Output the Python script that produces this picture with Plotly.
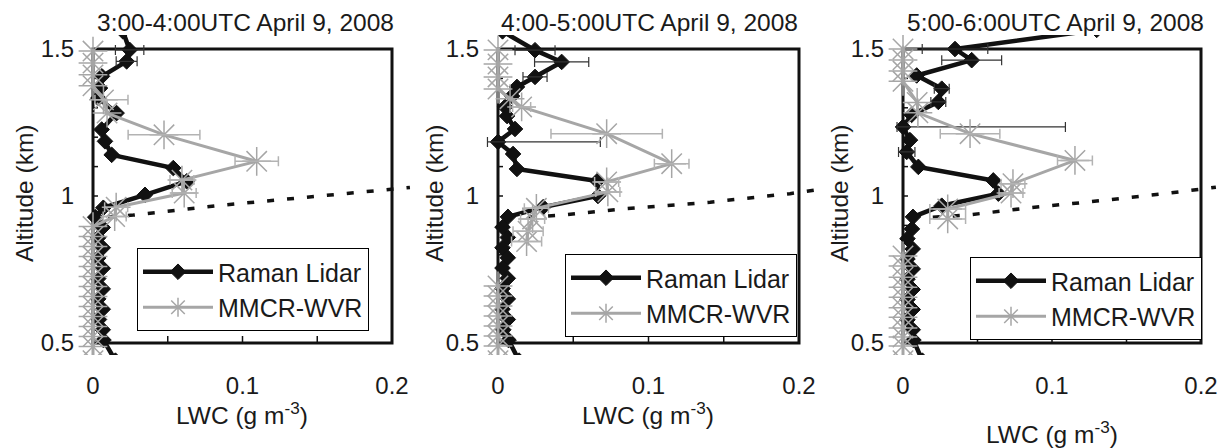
import plotly.graph_objects as go

W, H = 1223, 448
FONT = "Liberation Sans, Arial, sans-serif"
TXT = "#1a1a1a"
BLACK = "#111111"
GRAY = "#a6a6a6"

TITLES = ["3:00-4:00UTC April 9, 2008", "4:00-5:00UTC April 9, 2008", "5:00-6:00UTC April 9, 2008"]
X_TICKS = [0, 0.1, 0.2]
X_TICK_TEXT = ["0", "0.1", "0.2"]
Y_TICKS = [0.5, 1, 1.5]
Y_TICK_TEXT = ["0.5", "1", "1.5"]
X_MINOR = [0.05, 0.1, 0.15]
Y_MINOR = [0.6, 0.7, 0.8, 0.9, 1.0, 1.1, 1.2, 1.3, 1.4]
X_TITLE = "LWC (g m<sup>-3</sup>)"
Y_TITLE = "Altitude (km)"

# ---------------- Panel 1 : 3:00-4:00 UTC ----------------
P1_LIDAR_ALT = [1.56, 1.497, 1.458, 1.407, 1.367, 1.333, 1.282, 1.226, 1.186, 1.140, 1.095, 1.050, 1.004,
                0.960, 0.928, 0.893, 0.858, 0.824, 0.789, 0.754, 0.719, 0.684, 0.650, 0.615, 0.580, 0.545,
                0.510, 0.440]
P1_LIDAR_LWC = [0.020, 0.0245, 0.0225, 0.0060, 0.0047, 0.0036, 0.0158, 0.0058, 0.0080, 0.0125, 0.0537,
                0.0627, 0.0348, 0.0069, 0.0015, 0.0065, 0.0035, 0.0065, 0.0035, 0.0065, 0.0035, 0.0065,
                0.0035, 0.0065, 0.0040, 0.0065, 0.0070, 0.0150]
P1_LIDAR_ERR_P = [None, 0.0095, 0.0070] + [None] * 25
P1_LIDAR_ERR_M = [None, 0.0095, 0.0070] + [None] * 25

P1_MMCR_ALT = [1.493, 1.452, 1.412, 1.375, 1.327, 1.282, 1.208, 1.118, 1.054, 1.010, 0.962, 0.930,
               0.896, 0.862, 0.828, 0.794, 0.760, 0.726, 0.692, 0.658, 0.624, 0.590, 0.556, 0.522,
               0.488, 0.440]
P1_MMCR_LWC = [0.0, 0.0, 0.0, 0.0, 0.0070, 0.0094, 0.0475, 0.1095, 0.0595, 0.0610, 0.0155, 0.0145,
               0.0, 0.0, 0.0, 0.0, 0.0, 0.0, 0.0, 0.0, 0.0, 0.0, 0.0, 0.0, 0.0, 0.0]
P1_MMCR_ERR_P = [None] * 4 + [0.0164, None, 0.024, 0.0145, 0.008, 0.008, 0.0077, 0.0077] + [None] * 14
P1_MMCR_ERR_M = [None] * 4 + [0.0057, None, 0.024, 0.0145, 0.008, 0.008, 0.0077, 0.0077] + [None] * 14

P1_ADIAB_LWC = [0.010, 0.027, 0.083, 0.138, 0.194, 0.212]
P1_ADIAB_ALT = [0.928, 0.935, 0.967, 0.993, 1.019, 1.029]

# ---------------- Panel 2 : 4:00-5:00 UTC ----------------
P2_LIDAR_ALT = [1.56, 1.496, 1.456, 1.405, 1.371, 1.340, 1.303, 1.272, 1.228, 1.184, 1.143, 1.092, 1.051,
                1.000, 0.962, 0.929, 0.894, 0.859, 0.824, 0.790, 0.755, 0.720, 0.685, 0.650, 0.615,
                0.580, 0.545, 0.510, 0.440]
P2_LIDAR_LWC = [0.003, 0.0246, 0.0423, 0.0246, 0.0126, 0.0093, 0.0047, 0.0060, 0.0113, 0.0, 0.0100,
                0.0126, 0.0660, 0.0664, 0.0300, 0.0066, 0.0030, 0.0065, 0.0030, 0.0065, 0.0030, 0.0065,
                0.0030, 0.0065, 0.0030, 0.0065, 0.0035, 0.0070, 0.0140]
P2_LIDAR_ERR_P = [None, 0.0133, 0.018, 0.008, None, None, None, None, None, 0.068] + [None] * 19
P2_LIDAR_ERR_M = [None, 0.0133, 0.018, 0.008, None, None, None, None, None, 0.007] + [None] * 19

P2_MMCR_ALT = [1.497, 1.449, 1.405, 1.364, 1.331, 1.303, 1.212, 1.110, 1.048, 1.014, 0.958, 0.922,
               0.880, 0.845, None, 0.694, 0.660, 0.626, 0.592, 0.558, 0.524, 0.490, 0.440]
P2_MMCR_LWC = [0.0, 0.0, 0.0, 0.0, 0.0080, 0.0157, 0.0722, 0.1154, 0.0722, 0.0730, 0.0255, 0.0230,
               0.0200, 0.0190, None, 0.0, 0.0, 0.0, 0.0, 0.0, 0.0, 0.0, 0.0]
P2_MMCR_ERR_P = [None] * 5 + [0.006, 0.037, 0.0115, 0.008, 0.008, 0.008, 0.008, 0.010, 0.010] + [None] * 9
P2_MMCR_ERR_M = [None] * 5 + [0.006, 0.037, 0.0115, 0.008, 0.008, 0.008, 0.008, 0.010, 0.010] + [None] * 9

P2_ADIAB_LWC = [0.020, 0.043, 0.083, 0.141, 0.194, 0.210]
P2_ADIAB_ALT = [0.928, 0.935, 0.956, 0.979, 1.008, 1.020]

# ---------------- Panel 3 : 5:00-6:00 UTC ----------------
P3_LIDAR_ALT = [1.565, 1.500, 1.462, 1.410, 1.365, 1.320, 1.276, 1.235, 1.190, 1.150, 1.099, 1.053,
                1.008, 0.967, 0.929, 0.888, 0.855, 0.820, 0.786, 0.752, 0.717, 0.682, 0.648, 0.614,
                0.579, 0.545, 0.510, 0.440]
P3_LIDAR_LWC = [0.130, 0.0349, 0.0461, 0.0092, 0.0260, 0.0237, 0.0058, 0.0, 0.0047, 0.0025, 0.0103,
                0.0606, 0.0640, 0.0260, 0.0067, 0.0060, 0.0030, 0.0065, 0.0030, 0.0065, 0.0030, 0.0065,
                0.0030, 0.0065, 0.0030, 0.0065, 0.0070, 0.0130]
P3_LIDAR_ERR_P = [None, 0.022, 0.0201, None, 0.005, 0.005, None, 0.109, None, 0.0055] + [None] * 18
P3_LIDAR_ERR_M = [None, 0.022, 0.0201, None, 0.005, 0.005, None, 0.004, None, 0.0055] + [None] * 18

P3_MMCR_ALT = [1.500, 1.463, 1.425, 1.390, 1.318, 1.283, 1.212, 1.121, 1.042, 1.010, 0.956, 0.922,
               None, 0.796, 0.762, 0.724, 0.690, 0.656, 0.620, 0.588, 0.551, 0.520, 0.490, 0.440]
P3_MMCR_LWC = [0.0, 0.0, 0.0, 0.0, 0.0095, 0.0100, 0.0450, 0.1154, 0.0738, 0.0725, 0.0300, 0.0300,
               None, 0.0, 0.0, 0.0, 0.0, 0.0, 0.0, 0.0, 0.0, 0.0, 0.0, 0.0]
P3_MMCR_ERR_P = [None] * 6 + [0.020, 0.0117, 0.008, 0.008, 0.012, 0.012] + [None] * 12
P3_MMCR_ERR_M = [None] * 6 + [0.020, 0.0117, 0.008, 0.008, 0.012, 0.012] + [None] * 12

P3_ADIAB_LWC = [0.020, 0.043, 0.085, 0.125, 0.179, 0.195, 0.210]
P3_ADIAB_ALT = [0.928, 0.935, 0.960, 0.980, 1.010, 1.020, 1.030]

PANELS = [
    (P1_LIDAR_LWC, P1_LIDAR_ALT, P1_LIDAR_ERR_P, P1_LIDAR_ERR_M,
     P1_MMCR_LWC, P1_MMCR_ALT, P1_MMCR_ERR_P, P1_MMCR_ERR_M, P1_ADIAB_LWC, P1_ADIAB_ALT),
    (P2_LIDAR_LWC, P2_LIDAR_ALT, P2_LIDAR_ERR_P, P2_LIDAR_ERR_M,
     P2_MMCR_LWC, P2_MMCR_ALT, P2_MMCR_ERR_P, P2_MMCR_ERR_M, P2_ADIAB_LWC, P2_ADIAB_ALT),
    (P3_LIDAR_LWC, P3_LIDAR_ALT, P3_LIDAR_ERR_P, P3_LIDAR_ERR_M,
     P3_MMCR_LWC, P3_MMCR_ALT, P3_MMCR_ERR_P, P3_MMCR_ERR_M, P3_ADIAB_LWC, P3_ADIAB_ALT),
]

# ---------------- geometry (pixels) ----------------
PX0 = [93, 498, 903]        # pixel of LWC = 0
PX02 = [392, 799, 1201]     # pixel of LWC = 0.2
PL = [75, 480, 885]         # plot-area left
PR = [414, 821, 1223]       # plot-area right
PY15, PY05, PT, PB = 49, 343, 35, 355
TITLE_X = [245, 649, 1055]
XT_X = [242, 648, 1052]
XT_Y = [413, 413, 432]
YT_X = [24, 434, 839]
LEG_POS = [(137, 248), (565, 254), (970, 257)]

fig = go.Figure()
layout = dict(width=W, height=H, margin=dict(l=0, r=0, t=0, b=0), autosize=False,
              paper_bgcolor="white", plot_bgcolor="white",
              font=dict(family=FONT, size=24, color=TXT), shapes=[], annotations=[])

sy = (PY05 - PY15) / 1.0
yr = [0.5 - (PB - PY05) / sy, 1.5 + (PY15 - PT) / sy]


def subset(xs, ys, ep, em):
    idx = [i for i, e in enumerate(ep) if e is not None and ys[i] is not None]
    return ([xs[i] for i in idx], [ys[i] for i in idx], [ep[i] for i in idx], [em[i] for i in idx])


for k, (llwc, lalt, lep, lem, mlwc, malt, mep, mem, alwc, aalt) in enumerate(PANELS):
    n = "" if k == 0 else str(k + 1)
    xa, ya = "x" + n, "y" + n
    leg = "legend" + n
    s = (PX02[k] - PX0[k]) / 0.2
    xr = [(PL[k] - PX0[k]) / s, (PR[k] - PX0[k]) / s]

    # adiabatic dashed line
    fig.add_trace(go.Scatter(x=alwc, y=aalt, mode="lines", xaxis=xa, yaxis=ya, showlegend=False,
                             line=dict(color=BLACK, width=3.5, dash="7px,13px"), hoverinfo="skip"))
    # Raman lidar
    fig.add_trace(go.Scatter(x=llwc, y=lalt, mode="lines+markers", name="Raman Lidar", xaxis=xa, yaxis=ya,
                             legend=leg, line=dict(color=BLACK, width=4.5),
                             marker=dict(symbol="diamond", size=12, color=BLACK,
                                         line=dict(color=BLACK, width=1))))
    ex, ey, ep, em = subset(llwc, lalt, lep, lem)
    fig.add_trace(go.Scatter(x=ex, y=ey, mode="markers", xaxis=xa, yaxis=ya, showlegend=False,
                             marker=dict(size=1, opacity=0), hoverinfo="skip",
                             error_x=dict(type="data", symmetric=False, array=ep, arrayminus=em,
                                          color="#333333", thickness=1.2, width=5)))
    # MMCR-WVR
    fig.add_trace(go.Scatter(x=mlwc, y=malt, mode="lines+markers", name="MMCR-WVR", xaxis=xa, yaxis=ya,
                             legend=leg, line=dict(color=GRAY, width=3),
                             marker=dict(symbol="asterisk-open", size=24, color=GRAY,
                                         line=dict(color=GRAY, width=1.5))))
    ex, ey, ep, em = subset(mlwc, malt, mep, mem)
    fig.add_trace(go.Scatter(x=ex, y=ey, mode="markers", xaxis=xa, yaxis=ya, showlegend=False,
                             marker=dict(size=1, opacity=0), hoverinfo="skip",
                             error_x=dict(type="data", symmetric=False, array=ep, arrayminus=em,
                                          color="#b3b3b3", thickness=1.5, width=5)))

    layout["xaxis" + n] = dict(domain=[PL[k] / W, PR[k] / W], range=xr, anchor=ya,
                               showgrid=False, zeroline=False, showline=False, ticks="",
                               tickvals=X_TICKS, ticktext=X_TICK_TEXT, ticklabelstandoff=14,
                               tickfont=dict(size=24, color=TXT, family=FONT))
    layout["yaxis" + n] = dict(domain=[1 - PB / H, 1 - PT / H], range=yr, anchor=xa,
                               showgrid=False, zeroline=False, showline=False, ticks="",
                               tickvals=Y_TICKS, ticktext=Y_TICK_TEXT, ticklabelstandoff=0,
                               tickfont=dict(size=24, color=TXT, family=FONT))
    # frame
    layout["shapes"].append(dict(type="rect", xref=xa, yref=ya, x0=0, x1=0.2, y0=0.5, y1=1.5,
                                 line=dict(color=BLACK, width=3), layer="below"))
    for t in X_MINOR:
        layout["shapes"].append(dict(type="line", xref=xa, yref=ya, x0=t, x1=t,
                                     ysizemode="pixel", yanchor=0.5, y0=0, y1=7,
                                     line=dict(color=BLACK, width=1.5), layer="below"))
    for t in Y_MINOR:
        layout["shapes"].append(dict(type="line", xref=xa, yref=ya, y0=t, y1=t,
                                     xsizemode="pixel", xanchor=0, x0=0, x1=5,
                                     line=dict(color=BLACK, width=1.5), layer="below"))
    # texts
    layout["annotations"].append(dict(text=TITLES[k], xref="paper", yref="paper", x=TITLE_X[k] / W,
                                      y=1 - 23 / H, xanchor="center", yanchor="middle", showarrow=False,
                                      font=dict(size=24.5, color=TXT, family=FONT)))
    layout["annotations"].append(dict(text=X_TITLE, xref="paper", yref="paper", x=XT_X[k] / W,
                                      y=1 - XT_Y[k] / H, xanchor="center", yanchor="middle", showarrow=False,
                                      font=dict(size=24.5, color=TXT, family=FONT)))
    layout["annotations"].append(dict(text=Y_TITLE, xref="paper", yref="paper", x=YT_X[k] / W,
                                      y=1 - 193 / H, xanchor="center", yanchor="middle", showarrow=False,
                                      textangle=-90, font=dict(size=24.5, color=TXT, family=FONT)))
    layout[leg] = dict(x=LEG_POS[k][0] / W, y=1 - LEG_POS[k][1] / H, xanchor="left", yanchor="top",
                       bordercolor="black", borderwidth=1, bgcolor="white", itemwidth=70,
                       font=dict(size=25, color=TXT, family=FONT), tracegroupgap=0)

fig.update_layout(**layout)
fig.write_html("out.html", config={"displayModeBar": False},
               post_script="document.body.style.margin='0px';document.body.style.overflow='hidden';")
